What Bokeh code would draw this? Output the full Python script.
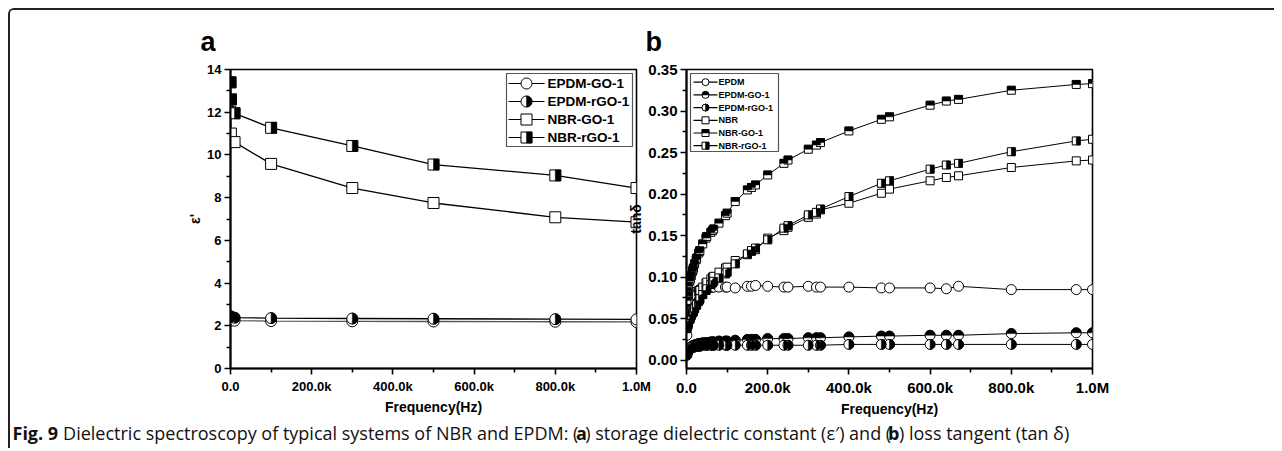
import math
from bokeh.plotting import figure
from bokeh.models import Range1d, FixedTicker, Label
from bokeh.layouts import row, column
from bokeh.embed import file_html
from bokeh.resources import INLINE
from bokeh.core.properties import value

# ---------------- data: panel a (storage dielectric constant) ----------------
freq_a = [100, 1e3, 1e4, 1e5, 3e5, 5e5, 8e5, 1e6]
a_epdm_go = [2.26, 2.25, 2.24, 2.22, 2.21, 2.20, 2.19, 2.18]
a_epdm_rgo = [2.44, 2.42, 2.38, 2.36, 2.34, 2.33, 2.31, 2.30]
a_nbr_go = [12.0, 11.0, 10.6, 9.58, 8.45, 7.75, 7.08, 6.85]
a_nbr_rgo = [13.4, 12.6, 11.95, 11.27, 10.42, 9.55, 9.04, 8.45]

# ---------------- data: panel b (loss tangent) ----------------
freq_b = [1e3, 2e3, 3e3, 5e3, 8e3,
          10e3, 12e3, 15e3, 16e3, 17e3, 20e3, 24e3, 25e3, 30e3, 32e3, 33e3, 40e3, 48e3, 50e3,
          60e3, 64e3, 67e3, 80e3, 96e3,
          100e3, 120e3, 150e3, 160e3, 170e3, 200e3, 240e3, 250e3, 300e3, 320e3, 330e3, 400e3,
          480e3, 500e3, 600e3, 640e3, 670e3, 800e3, 960e3, 1e6]
b_nbr_go = [.072, .078, .083, .089, .095,
            .098, .102, .107, .109, .111, .116, .121, .123, .129, .131, .132, .140, .147, .149,
            .154, .156, .158, .165, .174,
            .177, .191, .205, .208, .211, .223, .237, .241, .254, .259, .262, .276,
            .290, .293, .307, .312, .314, .325, .332, .333]
b_nbr_rgo = [.038, .040, .042, .045, .049,
             .051, .054, .057, .058, .059, .062, .066, .067, .071, .073, .074, .079, .084, .086,
             .091, .093, .095, .099, .104,
             .106, .116, .128, .132, .135, .145, .159, .162, .175, .178, .182, .197,
             .213, .216, .230, .235, .237, .251, .264, .266]
b_nbr = [.045, .048, .051, .055, .060,
         .062, .065, .068, .069, .070, .073, .077, .078, .082, .083, .084, .088, .093, .094,
         .098, .100, .101, .106, .111,
         .112, .120, .127, .131, .133, .147, .156, .160, .172, .176, .181, .189,
         .201, .206, .216, .220, .222, .232, .240, .241]
b_epdm = [.030, .040, .048, .058, .066,
          .070, .073, .076, .077, .078, .080, .082, .083, .084, .085, .085, .086, .087, .087,
          .088, .088, .088, .088, .088,
          .088, .087, .089, .089, .090, .089, .088, .088, .089, .088, .088, .088,
          .087, .087, .087, .086, .089, .085, .085, .085]
b_epdm_go = [.008, .010, .011, .013, .014,
             .015, .016, .017, .017, .018, .018, .019, .019, .020, .020, .020, .021, .021, .021,
             .022, .022, .022, .023, .023,
             .023, .024, .025, .025, .025, .026, .026, .026, .027, .027, .027, .028,
             .029, .029, .030, .030, .030, .032, .033, .033]
b_epdm_rgo = [.006, .009, .010, .012, .013,
              .014, .015, .015, .016, .016, .016, .017, .017, .017, .017, .017, .018, .018, .018,
              .018, .018, .018, .018, .018,
              .018, .018, .018, .018, .018, .018, .018, .018, .018, .018, .018, .019,
              .019, .019, .019, .019, .019, .019, .019, .019]

# ---------------- ticks / labels ----------------
x_ticks = [0, 200000, 400000, 600000, 800000, 1000000]
x_minor = [100000, 300000, 500000, 700000, 900000]
x_labels = ["0.0", "200.0k", "400.0k", "600.0k", "800.0k", "1.0M"]
a_y_ticks = [0, 2, 4, 6, 8, 10, 12, 14]
a_y_minor = [1, 3, 5, 7, 9, 11, 13]
b_y_ticks = [0.0, 0.05, 0.10, 0.15, 0.20, 0.25, 0.30, 0.35]
b_y_minor = [0.025, 0.075, 0.125, 0.175, 0.225, 0.275, 0.325]
b_y_labels = ["0.00", "0.05", "0.10", "0.15", "0.20", "0.25", "0.30", "0.35"]

legend_a = ["EPDM-GO-1", "EPDM-rGO-1", "NBR-GO-1", "NBR-rGO-1"]
legend_b = ["EPDM", "EPDM-GO-1", "EPDM-rGO-1", "NBR", "NBR-GO-1", "NBR-rGO-1"]

caption_parts = [
    ("Fig. 9", "bold"),
    ("Dielectric spectroscopy of typical systems of NBR and EPDM: (", "normal"),
    ("a", "bold"),
    (") storage dielectric constant (\u03b5\u2032) and (", "normal"),
    ("b", "bold"),
    (") loss tangent (tan \u03b4)", "normal"),
]

# ---------------- layout constants ----------------
FONT = "Liberation Sans"
FW, FH = 406, 299
X0, X1 = 0, 1.0e6


def style_axes(p, y_ticks, y_minor, y_labels, tick_size, xlabel, ylabel):
    p.xgrid.visible = False
    p.ygrid.visible = False
    p.outline_line_color = "black"
    p.outline_line_width = 1.6
    p.xaxis.ticker = FixedTicker(ticks=x_ticks, minor_ticks=x_minor)
    p.xaxis.major_label_overrides = {t: l for t, l in zip(x_ticks, x_labels)}
    p.yaxis.ticker = FixedTicker(ticks=y_ticks, minor_ticks=y_minor)
    p.yaxis.major_label_overrides = {t: l for t, l in zip(y_ticks, y_labels)}
    for ax in (p.xaxis[0], p.yaxis[0]):
        ax.axis_line_width = 2
        ax.axis_line_color = "black"
        ax.major_tick_line_width = 1.6
        ax.minor_tick_line_width = 1.6
        ax.major_tick_out = 6
        ax.major_tick_in = 0
        ax.minor_tick_out = 4
        ax.minor_tick_in = 0
        ax.major_label_text_font = FONT
        ax.major_label_text_font_style = "bold"
        ax.major_label_text_font_size = tick_size
        ax.major_label_text_color = "black"
        ax.axis_label_text_font = FONT
        ax.axis_label_text_font_style = "bold"
        ax.axis_label_text_font_size = "14px"
        ax.axis_label_text_color = "black"
    p.xaxis.major_label_standoff = 4
    p.yaxis.major_label_standoff = 3
    p.xaxis.axis_label = xlabel
    p.yaxis.axis_label = ylabel
    p.xaxis.axis_label_standoff = 2
    p.yaxis.axis_label_standoff = 1


def style_title(p, letter, offset):
    p.title.text = letter
    p.title.align = "left"
    p.title.offset = offset
    p.title.standoff = 25
    p.title.text_font = FONT
    p.title.text_font_style = "bold"
    p.title.text_font_size = "27px"
    p.title.text_color = "black"


def draw_series(p, x, y, kind, half, size, lw, lcolor, dxp, dyp):
    p.line(x, y, line_color=lcolor, line_width=lw)
    marker = "circle" if kind == "c" else "square"
    p.scatter(x, y, marker=marker, size=size, fill_color="white", line_color="black", line_width=1)
    if half is None:
        return
    if kind == "c":
        a0, a1 = (-math.pi / 2, math.pi / 2) if half == "right" else (0, math.pi)
        p.wedge(x, y, radius=size / 2, radius_units="screen", start_angle=a0, end_angle=a1,
                fill_color="black", line_color="black", line_width=0.5)
    else:
        if half == "right":
            xs = [v + dxp * size / 4 for v in x]
            p.rect(xs, y, width=size / 2, height=size, width_units="screen", height_units="screen",
                   fill_color="black", line_color="black", line_width=0.5)
        else:
            ys = [v + dyp * size / 4 for v in y]
            p.rect(x, ys, width=size, height=size / 2, width_units="screen", height_units="screen",
                   fill_color="black", line_color="black", line_width=0.5)


def draw_legend(p, labels, kinds, halves, box, row0, row_dy, lx0, lx1, mx, tx, msize, fsize):
    l, r, t, b = box
    p.quad(left=[l], right=[r], top=[t], bottom=[b], fill_color="white", line_color="#555555",
           line_width=1.2, x_range_name="lpx", y_range_name="lpy")
    for i, (lab, k, h) in enumerate(zip(labels, kinds, halves)):
        yy = row0 + i * row_dy
        p.segment(x0=[lx0], y0=[yy], x1=[lx1], y1=[yy], line_color="black", line_width=1.2,
                  x_range_name="lpx", y_range_name="lpy")
        mk = "circle" if k == "c" else "square"
        p.scatter([mx], [yy], marker=mk, size=msize, fill_color="white", line_color="black",
                  line_width=1, x_range_name="lpx", y_range_name="lpy")
        if h is not None:
            if k == "c":
                a0, a1 = (-math.pi / 2, math.pi / 2) if h == "right" else (0, math.pi)
                p.wedge([mx], [yy], radius=msize / 2, radius_units="screen", start_angle=a0,
                        end_angle=a1, fill_color="black", line_color="black", line_width=0.5,
                        x_range_name="lpx", y_range_name="lpy")
            elif h == "right":
                p.rect([mx + msize / 4], [yy], width=msize / 2, height=msize, fill_color="black",
                       line_color="black", line_width=0.5, x_range_name="lpx", y_range_name="lpy")
            else:
                p.rect([mx], [yy - msize / 4], width=msize, height=msize / 2, fill_color="black",
                       line_color="black", line_width=0.5, x_range_name="lpx", y_range_name="lpy")
        p.text([tx], [yy], text=[lab], text_font=value(FONT), text_font_style="bold",
               text_font_size=fsize, text_baseline="middle", text_align="left",
               x_range_name="lpx", y_range_name="lpy")


# ---------------- panel a ----------------
pa = figure(frame_width=FW, frame_height=FH, x_range=Range1d(X0, X1), y_range=Range1d(0, 14),
            toolbar_location=None, output_backend="svg",
            min_border_left=220, min_border_right=16, min_border_top=59, min_border_bottom=46,
            border_fill_color="white", background_fill_color="white")
pa.extra_x_ranges = {"lpx": Range1d(0, FW)}
pa.extra_y_ranges = {"lpy": Range1d(FH, 0)}
style_axes(pa, a_y_ticks, a_y_minor, [str(v) for v in a_y_ticks], "13px", "Frequency(Hz)", "\u03b5'")
style_title(pa, "a", -30)
dxa = (X1 - X0) / FW
dya = 14.0 / FH
draw_series(pa, freq_a, a_epdm_go, "c", None, 11, 1.3, "#555555", dxa, dya)
draw_series(pa, freq_a, a_epdm_rgo, "c", "right", 11, 1.3, "black", dxa, dya)
draw_series(pa, freq_a, a_nbr_go, "s", None, 11, 1.3, "black", dxa, dya)
draw_series(pa, freq_a, a_nbr_rgo, "s", "right", 11, 1.3, "black", dxa, dya)
draw_legend(pa, legend_a, ["c", "c", "s", "s"], [None, "right", None, "right"],
            (276, 402, 4, 77), 14, 18, 278, 314, 296, 317, 11, "13.5px")

# ---------------- panel b ----------------
pb = figure(frame_width=FW, frame_height=FH, x_range=Range1d(X0, X1), y_range=Range1d(-0.01, 0.35),
            toolbar_location=None, output_backend="svg",
            min_border_left=64, min_border_right=182, min_border_top=59, min_border_bottom=46,
            border_fill_color=None, background_fill_color="white", margin=(0, 0, 0, -30))
pb.extra_x_ranges = {"lpx": Range1d(0, FW)}
pb.extra_y_ranges = {"lpy": Range1d(FH, 0)}
style_axes(pb, b_y_ticks, b_y_minor, b_y_labels, "15px", "Frequency(Hz)", "tan\u03b4")
style_title(pb, "b", -41)
dxb = (X1 - X0) / FW
dyb = 0.36 / FH
draw_series(pb, freq_b, b_epdm, "c", None, 10, 1.0, "black", dxb, dyb)
draw_series(pb, freq_b, b_epdm_go, "c", "top", 10, 1.0, "black", dxb, dyb)
draw_series(pb, freq_b, b_epdm_rgo, "c", "right", 10, 1.0, "black", dxb, dyb)
draw_series(pb, freq_b, b_nbr, "s", None, 8, 1.0, "black", dxb, dyb)
draw_series(pb, freq_b, b_nbr_rgo, "s", "right", 8, 1.0, "black", dxb, dyb)
draw_series(pb, freq_b, b_nbr_go, "s", "top", 8, 1.0, "black", dxb, dyb)
draw_legend(pb, legend_b, ["c", "c", "c", "s", "s", "s"], [None, "top", "right", None, "top", "right"],
            (4, 92, 4, 82), 12.7, 12.7, 7, 31, 19, 32, 7, "9px")

# ---------------- caption ----------------
CW, CH = 1264, 29
pc = figure(width=CW, height=CH, x_range=Range1d(0, CW), y_range=Range1d(CH, 0),
            toolbar_location=None, output_backend="svg", min_border=0,
            x_axis_type=None, y_axis_type=None, outline_line_color=None)
pc.xgrid.visible = False
pc.ygrid.visible = False
cap_x = [2, 52.6, 565.6, 574.7, 877.5, 888.5]
for (txt, st), xx in zip(caption_parts, cap_x):
    pc.add_layout(Label(x=xx, y=13, text=txt, text_font="Open Sans", text_font_style=st,
                        text_font_size="18px", text_baseline="middle", text_align="left",
                        text_color="#111111"))

layout = column(row(pa, pb), pc, margin=(8, 0, 0, 8),
                styles={"border-left": "2px solid #222", "border-top": "2px solid #222",
                        "border-top-left-radius": "6px"})

open("out.html", "w").write(file_html(layout, INLINE))
